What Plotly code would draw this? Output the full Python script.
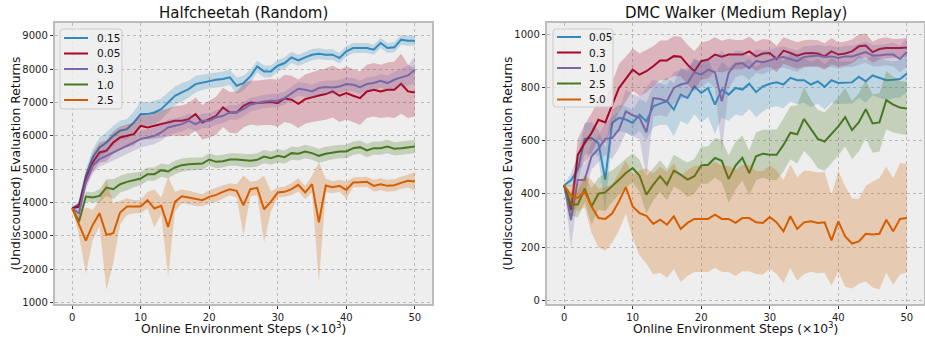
import plotly.graph_objects as go

W, H = 925, 337
steps = list(range(51))

# ---------------- Halfcheetah (Random) ----------------
hc_labels = ["0.15", "0.05", "0.3", "1.0", "2.5"]
hc_015 = [3830, 3950, 4800, 5350, 5650, 5800, 6000, 6150, 6200, 6400,
          6650, 6650, 6700, 6800, 7000, 7200, 7300, 7400, 7550, 7600,
          7650, 7680, 7700, 7750, 7500, 7580, 7780, 8080, 7930, 7930,
          8100, 8180, 8350, 8260, 8350, 8430, 8460, 8430, 8430, 8330,
          8530, 8630, 8630, 8630, 8580, 8780, 8630, 8650, 8880, 8850, 8850]
hc_015_sd = [0, 100, 200, 250, 300, 300, 300, 300, 300, 330,
             380, 350, 350, 320, 300, 280, 280, 250, 250, 230,
             230, 230, 230, 230, 250, 220, 200, 180, 180, 180,
             170, 170, 170, 170, 170, 170, 160, 160, 160, 160,
             160, 150, 150, 150, 150, 150, 150, 150, 150, 150, 150]
hc_005 = [3830, 3880, 4700, 5200, 5500, 5550, 5800, 5950, 6000, 6050,
          6300, 6250, 6300, 6350, 6400, 6450, 6450, 6500, 6650, 6400,
          6500, 6600, 6850, 6700, 6700, 6900, 7000, 6980, 7000, 7010,
          6980, 7120, 7080, 6960, 7100, 7160, 7210, 7250, 7330, 7200,
          7280, 7200, 7130, 7330, 7380, 7330, 7380, 7380, 7560, 7330, 7300]
hc_005_sd = [0, 100, 200, 280, 300, 320, 330, 330, 340, 340,
             350, 360, 380, 400, 420, 440, 460, 480, 500, 520,
             550, 570, 590, 610, 630, 650, 660, 670, 680, 690,
             700, 710, 720, 730, 740, 750, 760, 770, 780, 790,
             790, 800, 800, 800, 800, 800, 820, 850, 900, 800, 720]
hc_03 = [3830, 3680, 4600, 5100, 5300, 5400, 5500, 5600, 5700, 5800,
         5900, 5950, 6000, 6100, 6250, 6300, 6350, 6450, 6350, 6450,
         6450, 6550, 6600, 6700, 6700, 6800, 6930, 6980, 7030, 7050,
         7060, 7130, 7280, 7410, 7380, 7330, 7430, 7460, 7450, 7480,
         7550, 7530, 7460, 7550, 7580, 7650, 7580, 7680, 7750, 7810, 7980]
hc_03_sd = [0, 150, 200, 220, 230, 240, 250, 250, 250, 250,
            250, 250, 250, 250, 230, 220, 220, 220, 220, 220,
            220, 220, 220, 220, 220, 220, 200, 200, 200, 200,
            200, 200, 200, 200, 200, 200, 200, 200, 200, 200,
            200, 200, 200, 200, 200, 200, 220, 240, 260, 300, 400]
hc_10 = [3830, 3430, 4180, 4150, 4200, 4450, 4400, 4550, 4620, 4680,
         4720, 4850, 4850, 4970, 4930, 5050, 5120, 5150, 5170, 5170,
         5290, 5220, 5240, 5290, 5290, 5260, 5250, 5280, 5380, 5330,
         5400, 5360, 5480, 5460, 5530, 5480, 5400, 5460, 5500, 5530,
         5530, 5630, 5660, 5560, 5630, 5630, 5680, 5610, 5630, 5650, 5680]
hc_10_sd = [0, 100, 150, 150, 200, 250, 300, 250, 250, 220,
            200, 200, 200, 200, 200, 200, 200, 190, 190, 190,
            190, 190, 190, 190, 190, 200, 200, 200, 200, 200,
            200, 200, 200, 200, 200, 200, 210, 210, 200, 200,
            200, 200, 200, 200, 200, 200, 200, 200, 200, 200, 200]
hc_25 = [3830, 3330, 2860, 3330, 3680, 3030, 3080, 3700, 3880, 3880,
         3880, 4070, 3820, 3900, 3270, 4020, 4190, 4150, 4100, 4070,
         4170, 4230, 4320, 4400, 4350, 3920, 4400, 4440, 3800, 4030,
         4300, 4320, 4400, 4530, 4300, 4550, 3410, 4510, 4460, 4500,
         4380, 4600, 4610, 4620, 4500, 4550, 4500, 4520, 4590, 4650, 4630]
hc_25_sd = [0, 300, 1000, 450, 400, 1650, 900, 350, 250, 200,
            200, 250, 570, 250, 1500, 300, 200, 200, 200, 180,
            200, 220, 200, 180, 200, 900, 220, 220, 1000, 300,
            150, 150, 180, 200, 200, 250, 1800, 200, 180, 180,
            250, 150, 150, 150, 180, 180, 180, 180, 180, 200, 280]

# ---------------- DMC Walker (Medium Replay) ----------------
wk_labels = ["0.05", "0.3", "1.0", "2.5", "5.0"]
wk_005 = [433, 452, 492, 608, 611, 592, 454, 668, 687, 681,
          668, 699, 674, 731, 741, 750, 718, 775, 762, 806,
          781, 800, 737, 794, 775, 800, 794, 816, 784, 806,
          816, 821, 813, 838, 829, 829, 813, 825, 804, 829,
          819, 819, 821, 842, 825, 847, 838, 829, 831, 834, 854]
wk_005_sd = [0, 25, 50, 60, 60, 50, 120, 50, 50, 50,
             50, 60, 70, 80, 80, 90, 100, 100, 100, 105,
             110, 110, 110, 105, 100, 100, 100, 95, 95, 95,
             90, 90, 90, 90, 90, 85, 85, 85, 85, 85,
             80, 80, 80, 80, 80, 75, 75, 75, 70, 70, 70]
wk_03 = [433, 340, 548, 592, 630, 680, 670, 737, 800, 834,
         869, 850, 863, 882, 904, 904, 920, 918, 888, 863,
         901, 907, 926, 918, 926, 926, 926, 938, 919, 930,
         932, 909, 941, 932, 922, 930, 932, 930, 919, 938,
         926, 930, 938, 957, 960, 935, 947, 951, 950, 951, 953]
wk_03_sd = [0, 40, 60, 70, 75, 75, 80, 85, 90, 85,
            80, 80, 80, 75, 75, 75, 75, 75, 75, 75,
            70, 70, 65, 60, 60, 55, 55, 55, 55, 55,
            50, 50, 50, 50, 50, 50, 50, 50, 50, 50,
            45, 45, 45, 45, 45, 40, 40, 40, 35, 35, 35]
wk_10 = [433, 302, 453, 453, 542, 570, 608, 611, 643, 712,
         697, 687, 633, 762, 758, 750, 800, 813, 819, 859,
         850, 869, 859, 750, 857, 890, 894, 875, 901, 897,
         904, 913, 917, 909, 901, 917, 919, 922, 917, 919,
         913, 919, 919, 926, 935, 922, 922, 926, 926, 909, 936]
wk_10_sd = [0, 105, 60, 60, 50, 50, 60, 80, 70, 80,
            80, 80, 170, 70, 60, 60, 60, 55, 55, 50,
            50, 45, 60, 190, 60, 50, 45, 45, 45, 45,
            40, 40, 40, 40, 40, 40, 40, 40, 40, 40,
            40, 40, 40, 40, 40, 40, 40, 40, 45, 50, 55]
wk_25 = [433, 360, 360, 420, 353, 401, 406, 429, 454, 479,
         498, 469, 397, 435, 467, 435, 488, 473, 454, 467,
         508, 510, 536, 525, 456, 507, 536, 479, 542, 552,
         548, 548, 585, 631, 625, 683, 645, 608, 598, 626,
         655, 690, 641, 671, 720, 666, 670, 754, 737, 726, 722]
wk_25_sd = [0, 40, 50, 50, 70, 60, 70, 60, 55, 55,
            55, 60, 70, 60, 60, 60, 60, 60, 65, 65,
            70, 70, 75, 80, 90, 90, 85, 85, 90, 90,
            95, 95, 100, 100, 110, 120, 110, 110, 110, 110,
            110, 110, 110, 110, 110, 110, 110, 110, 105, 100, 100]
wk_50 = [433, 394, 385, 410, 353, 309, 306, 326, 372, 426,
         353, 328, 318, 287, 303, 284, 316, 268, 291, 306,
         306, 306, 322, 306, 306, 291, 309, 309, 293, 291,
         313, 293, 259, 316, 268, 293, 297, 291, 293, 225,
         297, 240, 213, 221, 250, 247, 250, 303, 259, 306, 309]
wk_50_sd = [0, 40, 50, 60, 100, 110, 120, 110, 110, 100,
            120, 160, 180, 190, 200, 200, 200, 200, 200, 200,
            200, 200, 200, 200, 200, 200, 200, 200, 195, 195,
            195, 195, 195, 195, 195, 195, 190, 190, 190, 170,
            190, 190, 170, 160, 180, 200, 210, 200, 200, 210, 205]

colors = ["#348ABD", "#A60628", "#7A68A6", "#467821", "#D55E00"]
x_ticks = [0, 10, 20, 30, 40, 50]
hc_yticks = [1000, 2000, 3000, 4000, 5000, 6000, 7000, 8000, 9000]
wk_yticks = [0, 200, 400, 600, 800, 1000]

FONT = "DejaVu Sans"


def rgba(hexc, a):
    h = hexc.lstrip("#")
    return "rgba(%d,%d,%d,%.3f)" % (int(h[0:2], 16), int(h[2:4], 16), int(h[4:6], 16), a)


fig = go.Figure()

panels = [
    ("x", "y", [(hc_015, hc_015_sd), (hc_005, hc_005_sd), (hc_03, hc_03_sd), (hc_10, hc_10_sd), (hc_25, hc_25_sd)]),
    ("x2", "y2", [(wk_005, wk_005_sd), (wk_03, wk_03_sd), (wk_10, wk_10_sd), (wk_25, wk_25_sd), (wk_50, wk_50_sd)]),
]
for xa, ya, series in panels:
    for (mean, sd), col in zip(series, colors):
        lo = [m - s for m, s in zip(mean, sd)]
        hi = [m + s for m, s in zip(mean, sd)]
        fig.add_trace(go.Scatter(x=steps + steps[::-1], y=hi + lo[::-1], fill="toself",
                                 fillcolor=rgba(col, 0.25), line=dict(width=0),
                                 mode="lines", hoverinfo="skip", showlegend=False,
                                 xaxis=xa, yaxis=ya))
        fig.add_trace(go.Scatter(x=steps, y=mean, mode="lines", line=dict(color=col, width=2),
                                 showlegend=False, xaxis=xa, yaxis=ya))

# plot areas in pixels
L1, R1 = 55, 432
L2, R2 = 547, 924
TOP, BOT = 23, 304


def px(x):
    return x / W


def py(y):
    return 1 - y / H


axis_common = dict(showgrid=True, gridcolor="#b8b8b8", griddash="dot", gridwidth=0.8,
                   zeroline=False, showline=True, linecolor="#bcbcbc", linewidth=1.5,
                   mirror=True, ticks="outside", ticklen=3.5, tickwidth=0.8, tickcolor="#333",
                   tickfont=dict(family=FONT, size=10, color="#222"), automargin=False)

fig.update_layout(
    width=W, height=H, margin=dict(l=0, r=0, t=0, b=0), autosize=False,
    paper_bgcolor="white", plot_bgcolor="#eeeeee", template="none", showlegend=False,
    xaxis=dict(domain=[px(L1), px(R1)], range=[-2.5, 52.5], tickvals=x_ticks, anchor="y", **axis_common),
    yaxis=dict(domain=[py(BOT), py(TOP)], range=[960, 9380], tickvals=hc_yticks, anchor="x", **axis_common),
    xaxis2=dict(domain=[px(L2), px(R2)], range=[-2.5, 52.5], tickvals=x_ticks, anchor="y2", **axis_common),
    yaxis2=dict(domain=[py(BOT), py(TOP)], range=[-15, 1045], tickvals=wk_yticks, anchor="x2", **axis_common),
)

annotations = []
titles = ["Halfcheetah (Random)", "DMC Walker (Medium Replay)"]
for (l, r), t in zip([(L1, R1), (L2, R2)], titles):
    c = (l + r) / 2
    annotations.append(dict(x=px(c), y=py(12.5), xref="paper", yref="paper", text=t, showarrow=False,
                            xanchor="center", yanchor="middle", font=dict(family=FONT, size=15, color="#111")))
    annotations.append(dict(x=px(c), y=py(327.5), xref="paper", yref="paper",
                            text="Online Environment Steps (×10<sup>3</sup>)", showarrow=False,
                            xanchor="center", yanchor="middle", font=dict(family=FONT, size=12.3, color="#111")))
for xc in [15, 507]:
    annotations.append(dict(x=px(xc), y=py(163.5), xref="paper", yref="paper",
                            text="(Undiscounted) Evaluation Returns", textangle=-90, showarrow=False,
                            xanchor="center", yanchor="middle", font=dict(family=FONT, size=12.3, color="#111")))

# legends (drawn as boxes + sample lines + labels)
shapes = []


def rounded_box(x0, y0, x1, y1, r):
    def P(x, y):
        return "%.5f,%.5f" % (px(x), py(y))
    path = "M " + P(x0 + r, y0) + " L " + P(x1 - r, y0) + " Q " + P(x1, y0) + " " + P(x1, y0 + r)
    path += " L " + P(x1, y1 - r) + " Q " + P(x1, y1) + " " + P(x1 - r, y1)
    path += " L " + P(x0 + r, y1) + " Q " + P(x0, y1) + " " + P(x0, y1 - r)
    path += " L " + P(x0, y0 + r) + " Q " + P(x0, y0) + " " + P(x0 + r, y0) + " Z"
    return path


legends = [
    (60, 122, 29, 109, 64, 88, 95, [38, 53.5, 69, 84.5, 100], hc_labels),
    (553, 613, 29, 107, 557, 581, 587, [37, 52.5, 68, 83.5, 99.5], wk_labels),
]
for bx0, bx1, by0, by1, lx0, lx1, tx, ys, labels in legends:
    shapes.append(dict(type="path", path=rounded_box(bx0, by0, bx1, by1, 3), xref="paper", yref="paper",
                       fillcolor="rgba(238,238,238,0.85)", line=dict(color="#cccccc", width=1), layer="above"))
    for yy, lab, col in zip(ys, labels, colors):
        shapes.append(dict(type="line", x0=px(lx0), x1=px(lx1), y0=py(yy), y1=py(yy), xref="paper", yref="paper",
                           line=dict(color=col, width=2), layer="above"))
        annotations.append(dict(x=px(tx), y=py(yy), xref="paper", yref="paper", text=lab, showarrow=False,
                                xanchor="left", yanchor="middle", font=dict(family=FONT, size=10.5, color="#111")))

fig.update_layout(annotations=annotations, shapes=shapes)
fig.write_html("out.html")
